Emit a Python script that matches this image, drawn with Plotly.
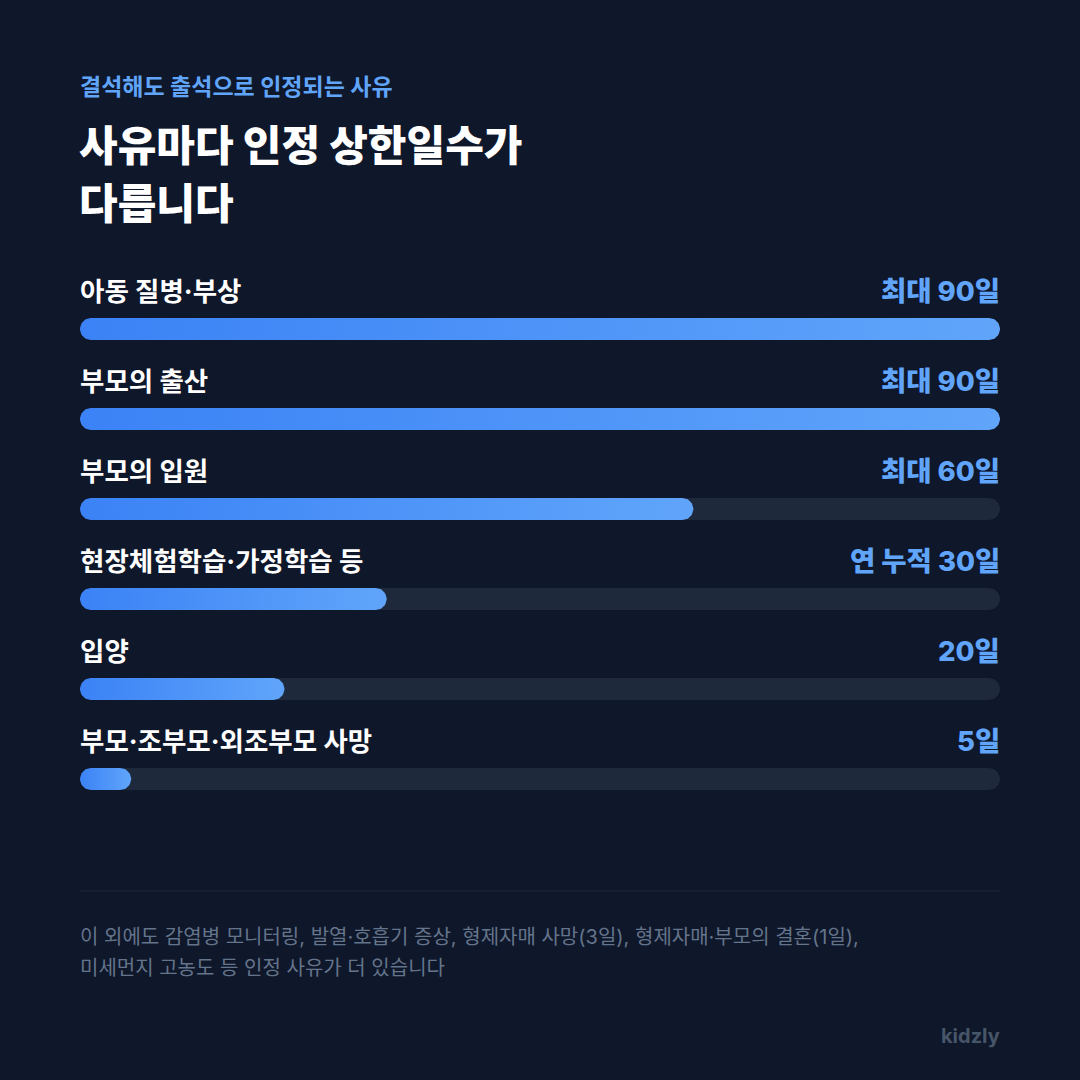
import numpy as np
import plotly.graph_objects as go

# ---------------- data ----------------
categories = ["아동 질병·부상", "부모의 출산", "부모의 입원",
              "현장체험학습·가정학습 등", "입양", "부모·조부모·외조부모 사망"]
max_days = [90, 90, 60, 30, 20, 5]
value_labels = ["최대 90일", "최대 90일", "최대 60일", "연 누적 30일", "20일", "5일"]
scale_max = 90

kicker = "결석해도 출석으로 인정되는 사유"
title_lines = ["사유마다 인정 상한일수가", "다릅니다"]
footnote_lines = ["이 외에도 감염병 모니터링, 발열·호흡기 증상, 형제자매 사망(3일), 형제자매·부모의 결혼(1일),",
                  "미세먼지 고농도 등 인정 사유가 더 있습니다"]
brand = "kidzly"

# ---------------- style ----------------
BG = "#0f172a"
TRACK = "#1e293b"
BLUE_A = "#3b82f6"
BLUE_B = "#60a5fa"
FONT = "Inter, Noto Sans CJK KR"

W = H = 1080
PLOT_L, PLOT_R = 80, 1000
px_per_x = (PLOT_R - PLOT_L) / scale_max
x_range = [-PLOT_L / px_per_x, (W - PLOT_L) / px_per_x]
ROW_PX = 90
FIRST_ROW_PX = 329
y_range = [(H - FIRST_ROW_PX) / ROW_PX, -FIRST_ROW_PX / ROW_PX]

BAR_PX = 22
rx = BAR_PX / 2 / px_per_x
ry = BAR_PX / 2 / ROW_PX


def stadium(x0, x1, yc, n=24):
    t_r = np.linspace(-np.pi / 2, np.pi / 2, n)
    t_l = np.linspace(np.pi / 2, 3 * np.pi / 2, n)
    xr = (x1 - rx) + rx * np.cos(t_r)
    yr = yc + ry * np.sin(t_r)
    xl = (x0 + rx) + rx * np.cos(t_l)
    yl = yc + ry * np.sin(t_l)
    xs = np.concatenate([xr, xl, xr[:1]])
    ys = np.concatenate([yr, yl, yr[:1]])
    return xs, ys


fig = go.Figure()

for i, v in enumerate(max_days):
    tx, ty = stadium(0, scale_max, i)
    fig.add_trace(go.Scatter(x=tx, y=ty, mode="lines", fill="toself",
                             fillcolor=TRACK, line=dict(width=0, color="rgba(0,0,0,0)"),
                             hoverinfo="skip", showlegend=False))
    bx, by = stadium(0, v, i)
    fig.add_trace(go.Scatter(x=bx, y=by, mode="lines", fill="toself",
                             fillgradient=dict(type="horizontal", start=0, stop=v,
                                               colorscale=[[0, BLUE_A], [1, BLUE_B]]),
                             line=dict(width=0, color="rgba(0,0,0,0)"),
                             hoverinfo="skip", showlegend=False))

annotations = []


def paper_ann(text, px, py, size, color, weight="normal", xanchor="left"):
    annotations.append(dict(text=text, x=px / W, y=1 - py / H, xref="paper", yref="paper",
                            xanchor=xanchor, yanchor="middle", showarrow=False,
                            font=dict(family=FONT, size=size, color=color, weight=weight)))


paper_ann(kicker, 78, 87, 23, BLUE_B, "bold")
paper_ann(title_lines[0], 77, 145, 42, "#ffffff", 800)
paper_ann(title_lines[1], 77, 203, 42, "#ffffff", 800)

for i, (cat, lab) in enumerate(zip(categories, value_labels)):
    annotations.append(dict(text=cat, x=0, y=i, xref="x", yref="y", xanchor="left",
                            yanchor="middle", yshift=38, xshift=-2, showarrow=False,
                            font=dict(family=FONT, size=26.5, color="#ffffff", weight="bold")))
    annotations.append(dict(text=lab, x=scale_max, y=i, xref="x", yref="y", xanchor="right",
                            yanchor="middle", yshift=38, xshift=2, showarrow=False,
                            font=dict(family=FONT, size=27.5, color=BLUE_B, weight=800)))

paper_ann(footnote_lines[0], 78, 937, 20, "#64748b")
paper_ann(footnote_lines[1], 78, 968, 20, "#64748b")
paper_ann(brand, 1002, 1036, 20, "#475569", "bold", xanchor="right")

fig.update_layout(
    width=W, height=H,
    margin=dict(l=0, r=0, t=0, b=0),
    paper_bgcolor=BG, plot_bgcolor=BG,
    xaxis=dict(range=x_range, visible=False, fixedrange=True),
    yaxis=dict(range=y_range, visible=False, fixedrange=True),
    annotations=annotations,
    shapes=[dict(type="line", xref="x", yref="paper", x0=0, x1=scale_max,
                 y0=1 - 891 / H, y1=1 - 891 / H, line=dict(color=TRACK, width=1))],
    showlegend=False,
)

fig.write_html("out.html", config={"displayModeBar": False},
               post_script="document.body.style.margin='0';document.body.style.background='%s';" % BG)
